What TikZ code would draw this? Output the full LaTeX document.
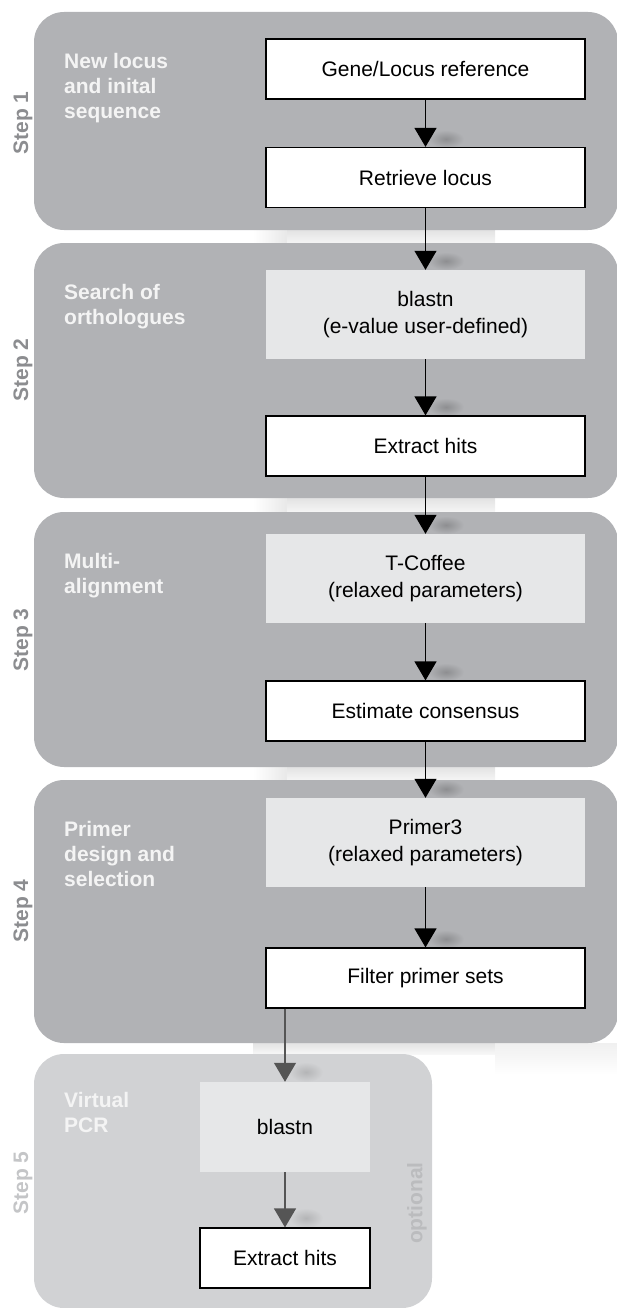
\documentclass[tikz,border=0pt]{standalone}
\usepackage{fontspec}
\setmainfont{Liberation Sans}
\usetikzlibrary{arrows.meta}
\definecolor{panel}{HTML}{B1B2B5}
\definecolor{panelL}{HTML}{D1D2D4}
\definecolor{lightbox}{HTML}{E6E7E8}
\definecolor{titlecol}{HTML}{F4F4F4}
\definecolor{steplab}{HTML}{8C8D90}
\definecolor{steplabL}{HTML}{C4C5C7}
\definecolor{optcol}{HTML}{BBBCBE}
\definecolor{arrowL}{HTML}{555555}
\tikzset{
  stagebox/.style={fill=panel, rounded corners=30},
  stageboxL/.style={fill=panelL, rounded corners=30},
  wbox/.style={draw=black, fill=white, line width=1.2, inner sep=0,
    minimum width=319, minimum height=60,
    font=\fontsize{21}{27}\selectfont, align=center},
  gbox/.style={fill=lightbox, inner sep=0,
    minimum width=319, minimum height=89,
    font=\fontsize{21}{27}\selectfont, align=center},
  title/.style={anchor=north west, inner sep=0, text=titlecol,
    font=\bfseries\fontsize{21}{25}\selectfont, align=left},
  steplabel/.style={rotate=90, inner sep=0, text=steplab,
    font=\bfseries\fontsize{21}{24}\selectfont},
  flow/.style={line width=1.2, draw=black,
    -{Triangle[width=22,length=19]}},
  halo/.style={inner color=black!20!panel, outer color=panel},
}
\begin{document}
\begin{tikzpicture}[x=1pt, y=-1pt]
\useasboundingbox (0,0) rectangle (617,1308);

% soft shadows in the gaps between the stages
\foreach \ya/\yb in {230/243, 498/512, 767/780}{
  \shade[left color=white, right color=black!9] (253,\ya) rectangle (287,\yb);
  \shade[top color=black!11, bottom color=black!4] (287,\ya) rectangle (495,\yb);
}
\shade[top color=black!11, bottom color=black!3] (253,1043) rectangle (495,1054);
\shade[top color=black!6, bottom color=white] (495,1043) rectangle (618,1075);

% stage panels
\fill[stagebox] (34,12) rectangle (618,230);
\fill[stagebox] (34,243) rectangle (618,498);
\fill[stagebox] (34,512) rectangle (618,767);
\fill[stagebox] (34,780) rectangle (618,1043);
\fill[stageboxL] (34,1054) rectangle (432,1308);

% shadows of the arrow heads
\foreach \yt in {148, 270, 416, 534, 681, 798, 948}{
  \shade[halo] (446,\yt-9) ellipse (18 and 9);
}
\shade[inner color=black!14!panelL, outer color=panelL] (306,1072) ellipse (17 and 10);
\shade[inner color=black!14!panelL, outer color=panelL] (306,1218) ellipse (17 and 10);

% stage titles
\node[title] (t1) at (64,52.7) {New locus\\and inital\\sequence};
\node[title] (t2) at (64,283.7) {Search of\\orthologues};
\node[title] (t3) at (64,552.7) {Multi-\\alignment};
\node[title] (t4) at (64,820.7) {Primer\\design and\\selection};
\node[title] (t5) at (64,1091.7) {Virtual\\PCR};

% step labels
\node[steplabel] (s1) at (23,123) {Step 1};
\node[steplabel] (s2) at (23,370) {Step 2};
\node[steplabel] (s3) at (23,640) {Step 3};
\node[steplabel] (s4) at (23,911) {Step 4};
\node[steplabel, text=steplabL] (s5) at (23,1183) {Step 5};
\node[steplabel, text=optcol] (opt) at (417,1203) {optional};

% processing boxes
\node[wbox] (ref)   at (425.5,69)    {Gene/Locus reference};
\node[wbox] (ret)   at (425.5,177.5) {Retrieve locus};
\node[gbox] (bl1)   at (425.5,314.5) {blastn\\(e-value user-defined)};
\node[wbox] (ext1)  at (425.5,446)   {Extract hits};
\node[gbox] (tcof)  at (425.5,578.5) {T-Coffee\\(relaxed parameters)};
\node[wbox] (cons)  at (425.5,711)   {Estimate consensus};
\node[gbox] (prim)  at (425.5,842.5) {Primer3\\(relaxed parameters)};
\node[wbox] (filt)  at (425.5,978)   {Filter primer sets};
\node[gbox, minimum width=170, minimum height=90] (bl2) at (285,1127) {blastn};
\node[wbox, minimum width=170] (ext2) at (285,1258) {Extract hits};

% connectors
\draw[flow] (ref) -- (ret);
\draw[flow] (ret) -- (bl1);
\draw[flow] (bl1) -- (ext1);
\draw[flow] (ext1) -- (tcof);
\draw[flow] (tcof) -- (cons);
\draw[flow] (cons) -- (prim);
\draw[flow] (prim) -- (filt);
\draw[flow, draw=arrowL, fill=arrowL] (bl2.north |- filt.south) -- (bl2.north);
\draw[flow, draw=arrowL, fill=arrowL] (bl2) -- (ext2);
\end{tikzpicture}
\end{document}
